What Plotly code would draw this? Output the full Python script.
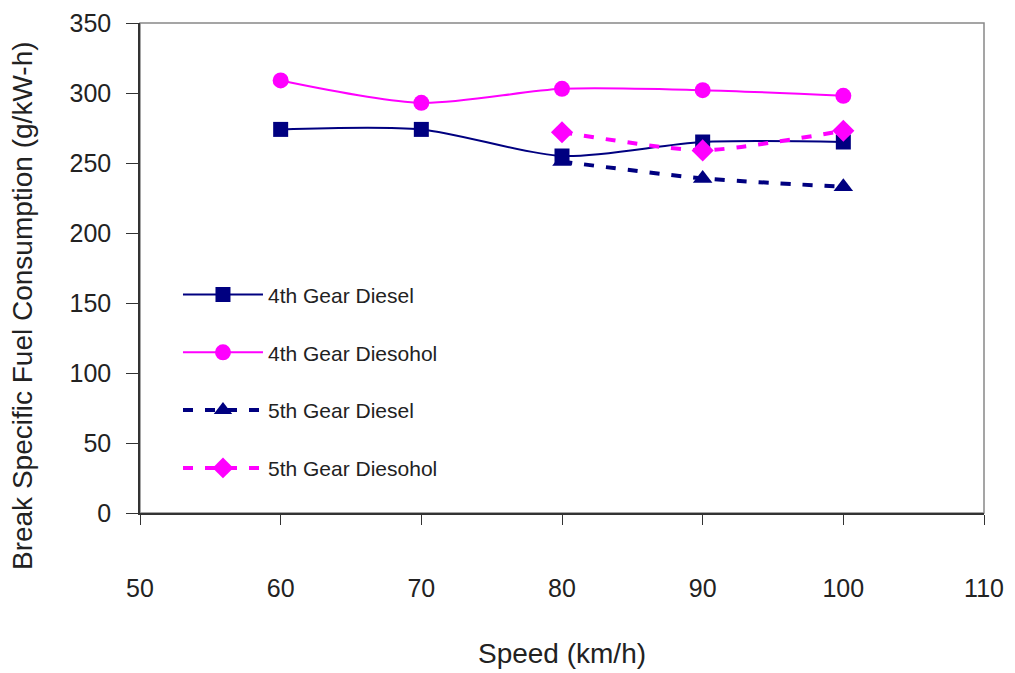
import plotly.graph_objects as go

# Speed (km/h)
speed_4th = [60, 70, 80, 90, 100]
speed_5th = [80, 90, 100]

# Break specific fuel consumption (g/kW-h)
bsfc_4th_diesel = [274, 274, 255, 265, 265]
bsfc_4th_diesohol = [309, 293, 303, 302, 298]
bsfc_5th_diesel = [251, 239, 233]
bsfc_5th_diesohol = [272, 259, 273]

NAVY = "#000080"
MAGENTA = "#FF00FF"
FONT = "Liberation Sans"
TEXT = "#222222"

fig = go.Figure()

fig.add_trace(go.Scatter(
    x=speed_4th, y=bsfc_4th_diesel, name="4th Gear Diesel", legendgroup="a",
    mode="lines+markers", line=dict(color=NAVY, width=2, shape="spline", smoothing=0.8),
    marker=dict(symbol="square", size=15, color=NAVY),
))
fig.add_trace(go.Scatter(
    x=speed_4th, y=bsfc_4th_diesohol, name="4th Gear Diesohol", legendgroup="b",
    mode="lines+markers", line=dict(color=MAGENTA, width=2, shape="spline", smoothing=0.8),
    marker=dict(symbol="circle", size=16, color=MAGENTA),
))
fig.add_trace(go.Scatter(
    x=speed_5th, y=bsfc_5th_diesel, name="5th Gear Diesel", legendgroup="c",
    mode="lines+markers", line=dict(color=NAVY, width=4, dash="10px,12px", shape="spline", smoothing=0.6),
    marker=dict(symbol="triangle-up", size=17, color=NAVY),
))
fig.add_trace(go.Scatter(
    x=speed_5th, y=bsfc_5th_diesohol, name="5th Gear Diesohol", legendgroup="d",
    mode="lines+markers", line=dict(color=MAGENTA, width=4, dash="10px,12px", shape="spline", smoothing=0.6),
    marker=dict(symbol="diamond", size=17, color=MAGENTA),
))

# Light frame around the plotting area
fig.add_shape(type="rect", xref="paper", yref="paper", x0=0, y0=0, x1=1, y1=1,
              line=dict(color="#888888", width=1.5), layer="below")

# Vertical axis title, set a little below the axis centre
fig.add_annotation(
    text="Break Specific Fuel Consumption (g/kW-h)",
    xref="paper", yref="paper", x=-0.1398, y=0.4224,
    xanchor="center", yanchor="middle", textangle=-90, showarrow=False,
    font=dict(size=28, family=FONT, color=TEXT),
)

fig.update_layout(
    width=1015, height=673,
    margin=dict(l=140, r=31, t=23, b=160, autoexpand=False),
    paper_bgcolor="white", plot_bgcolor="white",
    font=dict(family=FONT, color=TEXT),
    showlegend=True,
    legend=dict(
        x=0.045, y=0.487, xanchor="left", yanchor="top",
        bgcolor="rgba(0,0,0,0)", font=dict(size=21, family=FONT, color=TEXT),
        tracegroupgap=27.5, traceorder="grouped", itemwidth=80,
    ),
)

fig.update_xaxes(
    range=[50, 110], tickvals=[50, 60, 70, 80, 90, 100, 110],
    showgrid=False, zeroline=False, automargin=False,
    showline=True, linecolor="#333333", linewidth=1.5,
    ticks="outside", ticklen=10, tickcolor="#333333",
    tickfont=dict(size=25, family=FONT, color=TEXT),
    ticklabelstandoff=42,
    title=dict(text="Speed (km/h)", font=dict(size=28, family=FONT, color=TEXT), standoff=43),
)
fig.update_yaxes(
    range=[0, 350], tickvals=[0, 50, 100, 150, 200, 250, 300, 350],
    showgrid=False, zeroline=False, automargin=False,
    showline=True, linecolor="#333333", linewidth=1.5,
    ticks="outside", ticklen=12, tickcolor="#333333",
    tickfont=dict(size=25, family=FONT, color=TEXT),
    ticklabelstandoff=10,
)

fig.write_html("out.html")
